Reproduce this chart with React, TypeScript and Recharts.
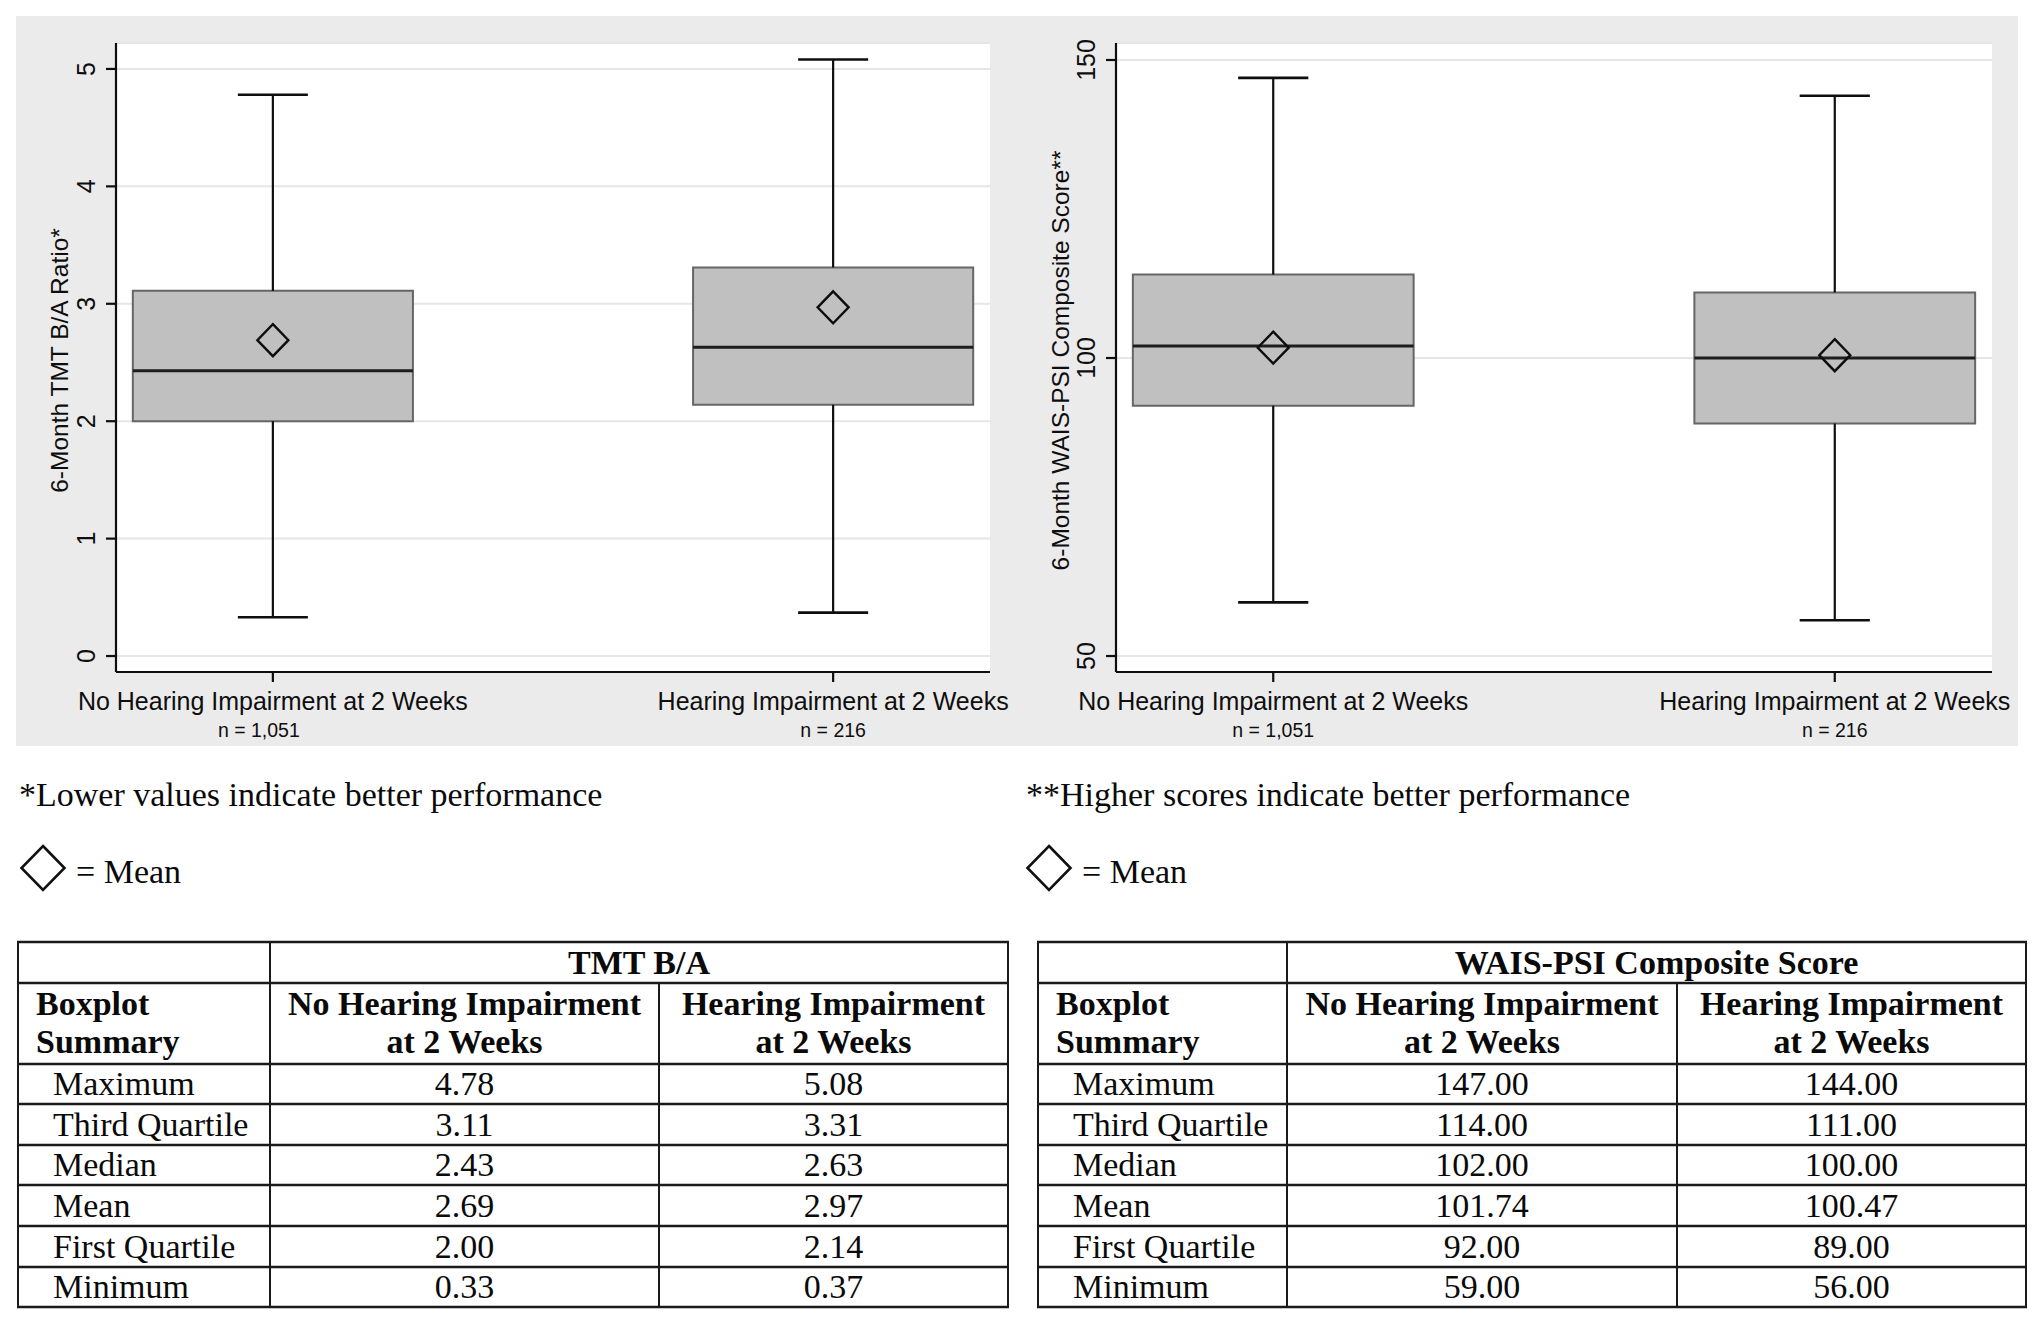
import React from 'react';
import { ComposedChart, XAxis, YAxis, CartesianGrid, ReferenceArea, ReferenceLine, Scatter } from 'recharts';

// ---------- data ----------
const categories = ['No Hearing Impairment at 2 Weeks', 'Hearing Impairment at 2 Weeks'];
const sampleSizes = ['n = 1,051', 'n = 216'];
const summaryLabels = ['Maximum', 'Third Quartile', 'Median', 'Mean', 'First Quartile', 'Minimum'];

const tmtMax = [4.78, 5.08];
const tmtQ3 = [3.11, 3.31];
const tmtMedian = [2.43, 2.63];
const tmtMean = [2.69, 2.97];
const tmtQ1 = [2.0, 2.14];
const tmtMin = [0.33, 0.37];
const tmtTicks = [0, 1, 2, 3, 4, 5];

const waisMax = [147, 144];
const waisQ3 = [114, 111];
const waisMedian = [102, 100];
const waisMean = [101.74, 100.47];
const waisQ1 = [92, 89];
const waisMin = [59, 56];
const waisTicks = [50, 100, 150];

const SANS = '"Liberation Sans", Arial, sans-serif';
const SERIF = '"Liberation Serif", "Times New Roman", serif';
const INK = '#0e0e0e';
const SERIF_SIZE = 34;

type Stats = { max: number[]; q3: number[]; median: number[]; mean: number[]; q1: number[]; min: number[] };

const tmtStats: Stats = { max: tmtMax, q3: tmtQ3, median: tmtMedian, mean: tmtMean, q1: tmtQ1, min: tmtMin };
const waisStats: Stats = { max: waisMax, q3: waisQ3, median: waisMedian, mean: waisMean, q1: waisQ1, min: waisMin };

const BOX_HALF = 0.25;
const CAP_HALF = 0.0625;

const makeXTick = (nShift: number[]) => (props: any) => {
  const { x, y, payload } = props;
  const i = payload.value as number;
  return (
    <g>
      <text x={x} y={y + 28} textAnchor="middle" fontSize={25} fontFamily={SANS} fill={INK}>
        {categories[i]}
      </text>
      <text x={x + (nShift[i] || 0)} y={y + 55} textAnchor="middle" fontSize={19.5} fontFamily={SANS} fill={INK}>
        {sampleSizes[i]}
      </text>
    </g>
  );
};

const YTick = (props: any) => {
  const { x, y, payload } = props;
  const bx = x - 11;
  return (
    <text
      x={bx}
      y={y}
      transform={`rotate(-90, ${bx}, ${y})`}
      textAnchor="middle"
      fontSize={25}
      fontFamily={SANS}
      fill={INK}
    >
      {payload.value}
    </text>
  );
};

const Diamond = (props: any) => {
  const { cx, cy } = props;
  if (cx == null || cy == null) return null;
  const w = 15.5;
  const h = 16;
  return (
    <polygon
      points={`${cx},${cy - h} ${cx + w},${cy} ${cx},${cy + h} ${cx - w},${cy}`}
      fill="none"
      stroke={INK}
      strokeWidth={2.4}
    />
  );
};

function BoxPanel(props: {
  stats: Stats;
  domain: [number, number];
  ticks: number[];
  yLabel: string;
  yAxisWidth: number;
  marginRight: number;
  left: number;
  titleOffset: number;
  nShift: number[];
}) {
  const { stats, domain, ticks, yLabel, yAxisWidth, marginRight, left, titleOffset, nShift } = props;
  const data = categories.map((c, i) => ({ x: i, name: c, mean: stats.mean[i] }));
  const axisStyle = { stroke: INK, strokeWidth: 2.2 };
  const XTick = makeXTick(nShift);
  return (
    <div style={{ position: 'absolute', left, top: 16, width: 1001, height: 730, background: '#ebebeb' }}>
      <ComposedChart width={1001} height={730} data={data} margin={{ top: 27, right: marginRight, bottom: 0, left: 0 }}>
        <CartesianGrid horizontal vertical={false} fill="#ffffff" stroke="#e6e6e6" strokeWidth={2} />
        <XAxis
          dataKey="x"
          type="number"
          domain={[-0.28, 1.28]}
          ticks={[0, 1]}
          allowDataOverflow
          height={74}
          tickSize={10}
          tickMargin={0}
          interval={0}
          axisLine={axisStyle}
          tickLine={axisStyle}
          tick={<XTick />}
        />
        <YAxis
          type="number"
          domain={domain}
          ticks={ticks}
          allowDataOverflow
          width={yAxisWidth}
          tickSize={10}
          tickMargin={0}
          interval={0}
          axisLine={axisStyle}
          tickLine={axisStyle}
          tick={<YTick />}
          label={(p: any) => {
            const vb = p.viewBox || {};
            const bx = vb.x + vb.width - titleOffset;
            const cy = vb.y + vb.height / 2 + 3;
            return (
              <text
                x={bx}
                y={cy}
                transform={`rotate(-90, ${bx}, ${cy})`}
                textAnchor="middle"
                fontSize={24.5}
                fontFamily={SANS}
                fill={INK}
              >
                {yLabel}
              </text>
            );
          }}
        />
        {categories.map((c, i) => (
          <ReferenceLine
            key={`wu${i}`}
            segment={[
              { x: i, y: stats.q3[i] },
              { x: i, y: stats.max[i] },
            ]}
            stroke={INK}
            strokeWidth={2.2}
          />
        ))}
        {categories.map((c, i) => (
          <ReferenceLine
            key={`wl${i}`}
            segment={[
              { x: i, y: stats.q1[i] },
              { x: i, y: stats.min[i] },
            ]}
            stroke={INK}
            strokeWidth={2.2}
          />
        ))}
        {categories.map((c, i) => (
          <ReferenceLine
            key={`cu${i}`}
            segment={[
              { x: i - CAP_HALF, y: stats.max[i] },
              { x: i + CAP_HALF, y: stats.max[i] },
            ]}
            stroke={INK}
            strokeWidth={2.6}
          />
        ))}
        {categories.map((c, i) => (
          <ReferenceLine
            key={`cl${i}`}
            segment={[
              { x: i - CAP_HALF, y: stats.min[i] },
              { x: i + CAP_HALF, y: stats.min[i] },
            ]}
            stroke={INK}
            strokeWidth={2.6}
          />
        ))}
        {categories.map((c, i) => (
          <ReferenceArea
            key={`box${i}`}
            x1={i - BOX_HALF}
            x2={i + BOX_HALF}
            y1={stats.q1[i]}
            y2={stats.q3[i]}
            fill="#c0c0c0"
            fillOpacity={1}
            stroke="#666666"
            strokeWidth={2}
          />
        ))}
        {categories.map((c, i) => (
          <ReferenceLine
            key={`med${i}`}
            segment={[
              { x: i - BOX_HALF, y: stats.median[i] },
              { x: i + BOX_HALF, y: stats.median[i] },
            ]}
            stroke="#1e1e1e"
            strokeWidth={3}
          />
        ))}
        <Scatter dataKey="mean" isAnimationActive={false} shape={<Diamond />} />
      </ComposedChart>
    </div>
  );
}

const rowLines = [942, 983, 1064, 1104, 1145, 1185, 1226, 1267, 1307];

function SummaryTable(props: { cols: number[]; title: string; stats: Stats }) {
  const { cols, title, stats } = props;
  const [c0, c1, c2, c3] = cols;
  const values = [stats.max, stats.q3, stats.median, stats.mean, stats.q1, stats.min];
  const top = rowLines[0];
  const bottom = rowLines[rowLines.length - 1];
  const mid1 = (c1 + c2) / 2;
  const mid2 = (c2 + c3) / 2;
  const textProps = { fontFamily: SERIF, fontSize: SERIF_SIZE, fill: '#0a0a0a' };
  return (
    <g>
      {rowLines.map((y, k) => (
        <line key={`h${k}`} x1={c0 - 1} x2={c3 + 1} y1={y} y2={y} stroke="#1a1a1a" strokeWidth={2.6} />
      ))}
      <line x1={c0} x2={c0} y1={top} y2={bottom} stroke="#1a1a1a" strokeWidth={2} />
      <line x1={c1} x2={c1} y1={top} y2={bottom} stroke="#1a1a1a" strokeWidth={2} />
      <line x1={c2} x2={c2} y1={rowLines[1]} y2={bottom} stroke="#1a1a1a" strokeWidth={2} />
      <line x1={c3} x2={c3} y1={top} y2={bottom} stroke="#1a1a1a" strokeWidth={2} />
      <text x={(c1 + c3) / 2} y={974} textAnchor="middle" fontWeight="bold" {...textProps}>
        {title}
      </text>
      <text x={c0 + 18} y={1015} fontWeight="bold" {...textProps}>Boxplot</text>
      <text x={c0 + 18} y={1053} fontWeight="bold" {...textProps}>Summary</text>
      <text x={mid1} y={1015} textAnchor="middle" fontWeight="bold" {...textProps}>No Hearing Impairment</text>
      <text x={mid1} y={1053} textAnchor="middle" fontWeight="bold" {...textProps}>at 2 Weeks</text>
      <text x={mid2} y={1015} textAnchor="middle" fontWeight="bold" {...textProps}>Hearing Impairment</text>
      <text x={mid2} y={1053} textAnchor="middle" fontWeight="bold" {...textProps}>at 2 Weeks</text>
      {summaryLabels.map((lab, r) => {
        const baseline = rowLines[r + 3] - 9;
        return (
          <g key={lab}>
            <text x={c0 + 35} y={baseline} {...textProps}>{lab}</text>
            <text x={mid1} y={baseline} textAnchor="middle" {...textProps}>{values[r][0].toFixed(2)}</text>
            <text x={mid2} y={baseline} textAnchor="middle" {...textProps}>{values[r][1].toFixed(2)}</text>
          </g>
        );
      })}
    </g>
  );
}

function MeanKey(props: { x: number }) {
  const { x } = props;
  const cx = x + 22;
  const cy = 868;
  return (
    <g>
      <polygon
        points={`${cx},${cy - 22} ${cx + 21.5},${cy} ${cx},${cy + 22} ${cx - 21.5},${cy}`}
        fill="none"
        stroke="#111"
        strokeWidth={2.6}
      />
      <text x={x + 55} y={883} fontFamily={SERIF} fontSize={SERIF_SIZE} fill="#0a0a0a">= Mean</text>
    </g>
  );
}

export default function App() {
  return (
    <div style={{ position: 'absolute', left: 0, top: 0, width: 2040, height: 1320, background: '#ffffff', overflow: 'hidden' }}>
      <BoxPanel
        stats={tmtStats}
        domain={[-0.136, 5.221]}
        ticks={tmtTicks}
        yLabel="6-Month TMT B/A Ratio*"
        yAxisWidth={100}
        marginRight={27}
        left={16}
        titleOffset={48}
        nShift={[-14, 0]}
      />
      <BoxPanel
        stats={waisStats}
        domain={[47.32, 152.85]}
        ticks={waisTicks}
        yLabel="6-Month WAIS-PSI Composite Score**"
        yAxisWidth={99}
        marginRight={26}
        left={1017}
        titleOffset={47}
        nShift={[0, 0]}
      />
      <svg width={2040} height={1320} style={{ position: 'absolute', left: 0, top: 0, pointerEvents: 'none' }}>
        <text x={19} y={806} fontFamily={SERIF} fontSize={SERIF_SIZE} fill="#0a0a0a">*Lower values indicate better performance</text>
        <text x={1026} y={806} fontFamily={SERIF} fontSize={SERIF_SIZE} fill="#0a0a0a">**Higher scores indicate better performance</text>
        <MeanKey x={21} />
        <MeanKey x={1027} />
        <SummaryTable cols={[18, 270, 659, 1008]} title="TMT B/A" stats={tmtStats} />
        <SummaryTable cols={[1038, 1287, 1677, 2026]} title="WAIS-PSI Composite Score" stats={waisStats} />
      </svg>
    </div>
  );
}
